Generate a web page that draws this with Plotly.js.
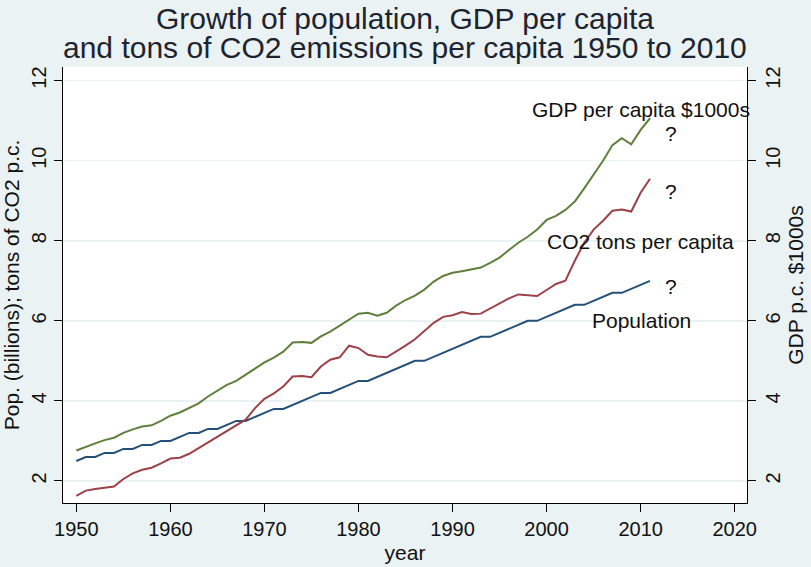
<!DOCTYPE html>
<html>
<head>
<meta charset="utf-8">
<script src="https://cdn.plot.ly/plotly-3.0.1.min.js"></script>
<style>html,body{margin:0;padding:0;background:#eaf2f3;}#chart{width:811px;height:567px;}</style>
</head>
<body>
<div id="chart"></div>
<script>
const years = [1950,1951,1952,1953,1954,1955,1956,1957,1958,1959,
  1960,1961,1962,1963,1964,1965,1966,1967,1968,1969,
  1970,1971,1972,1973,1974,1975,1976,1977,1978,1979,
  1980,1981,1982,1983,1984,1985,1986,1987,1988,1989,
  1990,1991,1992,1993,1994,1995,1996,1997,1998,1999,
  2000,2001,2002,2003,2004,2005,2006,2007,2008,2009,
  2010,2011];
const population = [2.5,2.6,2.6,2.7,2.7,2.8,2.8,2.9,2.9,3.0,
  3.0,3.1,3.2,3.2,3.3,3.3,3.4,3.5,3.5,3.6,
  3.7,3.8,3.8,3.9,4.0,4.1,4.2,4.2,4.3,4.4,
  4.5,4.5,4.6,4.7,4.8,4.9,5.0,5.0,5.1,5.2,
  5.3,5.4,5.5,5.6,5.6,5.7,5.8,5.9,6.0,6.0,
  6.1,6.2,6.3,6.4,6.4,6.5,6.6,6.7,6.7,6.8,
  6.9,7.0];
const co2 = [1.63,1.76,1.80,1.83,1.86,2.05,2.19,2.28,2.33,2.44,
  2.56,2.58,2.68,2.82,2.96,3.11,3.25,3.38,3.53,3.82,
  4.05,4.19,4.36,4.61,4.62,4.59,4.86,5.03,5.09,5.38,
  5.32,5.15,5.11,5.09,5.23,5.38,5.54,5.75,5.95,6.10,
  6.14,6.22,6.17,6.18,6.31,6.45,6.56,6.66,6.64,6.62,
  6.77,6.92,7.00,7.50,7.95,8.28,8.50,8.75,8.78,8.73,
  9.20,9.55];
const gdp = [2.76,2.86,2.94,3.02,3.08,3.20,3.29,3.36,3.39,3.50,
  3.63,3.71,3.82,3.94,4.11,4.26,4.40,4.50,4.65,4.82,
  4.96,5.08,5.23,5.46,5.47,5.45,5.61,5.73,5.88,6.03,
  6.18,6.20,6.13,6.20,6.38,6.52,6.63,6.78,6.98,7.12,
  7.20,7.24,7.28,7.33,7.45,7.58,7.77,7.95,8.10,8.28,
  8.52,8.62,8.77,8.98,9.31,9.65,10.00,10.39,10.56,10.41,
  10.77,11.06];
const yTicks = [2,4,6,8,10,12];
const xTicks = [1950,1960,1970,1980,1990,2000,2010,2020];
const seriesLabels = ["GDP per capita $1000s","CO2 tons per capita","Population"];
const titleLines = ["Growth of population, GDP per capita", "and tons of CO2 emissions per capita 1950 to 2010"];

const FONT = '"Liberation Sans", Arial, sans-serif';
const txt = '#111111';

const traces = [
  {x: years, y: population, type:'scatter', mode:'lines', line:{color:'#234f79', width:2}, yaxis:'y', hoverinfo:'skip'},
  {x: years, y: co2, type:'scatter', mode:'lines', line:{color:'#9c4148', width:2}, yaxis:'y', hoverinfo:'skip'},
  {x: years, y: gdp, type:'scatter', mode:'lines', line:{color:'#5f7f3c', width:2}, yaxis:'y2', hoverinfo:'skip'}
];

const yr = [1.45, 12.34];
const axisY = {
  range: yr, tickvals: yTicks, ticktext: yTicks.map(String), tickangle: -90,
  ticks: 'outside', ticklen: 8, tickwidth: 1, tickcolor: '#000',
  showline: true, linecolor: '#000', linewidth: 1,
  tickfont: {family: FONT, size: 20, color: txt}, zeroline: false
};

const lab = (x, y, t, anchor) => ({x: x, y: y, xref:'x', yref:'y', text: t, showarrow:false,
  xanchor: anchor, yanchor:'middle', font:{family:FONT, size:21, color:txt}});

const layout = {
  width: 811, height: 567,
  paper_bgcolor: '#eaf2f3', plot_bgcolor: '#ffffff',
  margin: {l: 63, r: 64, t: 67, b: 64},
  showlegend: false,
  font: {family: FONT, color: txt},
  title: {
    text: titleLines[0],
    font: {family: FONT, size: 30, color: '#1c2430'},
    x: 0.5, xanchor: 'center', xref: 'paper', y: 1 - 18/567, yanchor: 'middle', yref: 'container'
  },
  xaxis: {
    range: [1948.58, 2021.31], tickvals: xTicks, ticks: 'outside', ticklen: 8, tickwidth: 1, tickcolor: '#000',
    showline: true, linecolor: '#000', linewidth: 1, showgrid: false, zeroline: false,
    tickfont: {family: FONT, size: 20, color: txt},
    title: {text: 'year', font: {family: FONT, size: 21, color: txt}, standoff: 6}
  },
  yaxis: Object.assign({}, axisY, {
    side: 'left', showgrid: true, gridcolor: '#eaf2f3', gridwidth: 1.5,
    title: {text: 'Pop. (billions); tons of CO2 p.c.', font: {family: FONT, size: 21, color: txt}, standoff: 2}
  }),
  yaxis2: Object.assign({}, axisY, {
    side: 'right', overlaying: 'y', showgrid: false,
    title: {text: 'GDP p.c. $1000s', font: {family: FONT, size: 21, color: txt}, standoff: 2}
  }),
  annotations: [
    {x: 0.5, y: 1 - 47/567, xref:'paper', yref:'paper', text: titleLines[1], showarrow:false,
     xanchor:'center', yanchor:'middle', font:{family:FONT, size:30, color:'#1c2430'}},
    lab(1998.2, 11.27, seriesLabels[0], 'left'),
    lab(1999.8, 7.97, seriesLabels[1], 'left'),
    lab(2004.6, 6.02, seriesLabels[2], 'left'),
    lab(2013.2, 10.67, '?', 'center'),
    lab(2013.2, 9.24, '?', 'center'),
    lab(2013.2, 6.85, '?', 'center')
  ]
};
// annotation in paper coords: convert container fraction to paper fraction
(function(){
  const plotH = 567 - 67 - 64;
  const yPix = 47; // from top of page
  layout.annotations[0].y = (567 - 64 - yPix) / plotH;
})();

Plotly.newPlot('chart', traces, layout, {staticPlot: true, displayModeBar: false});
</script>
</body>
</html>
